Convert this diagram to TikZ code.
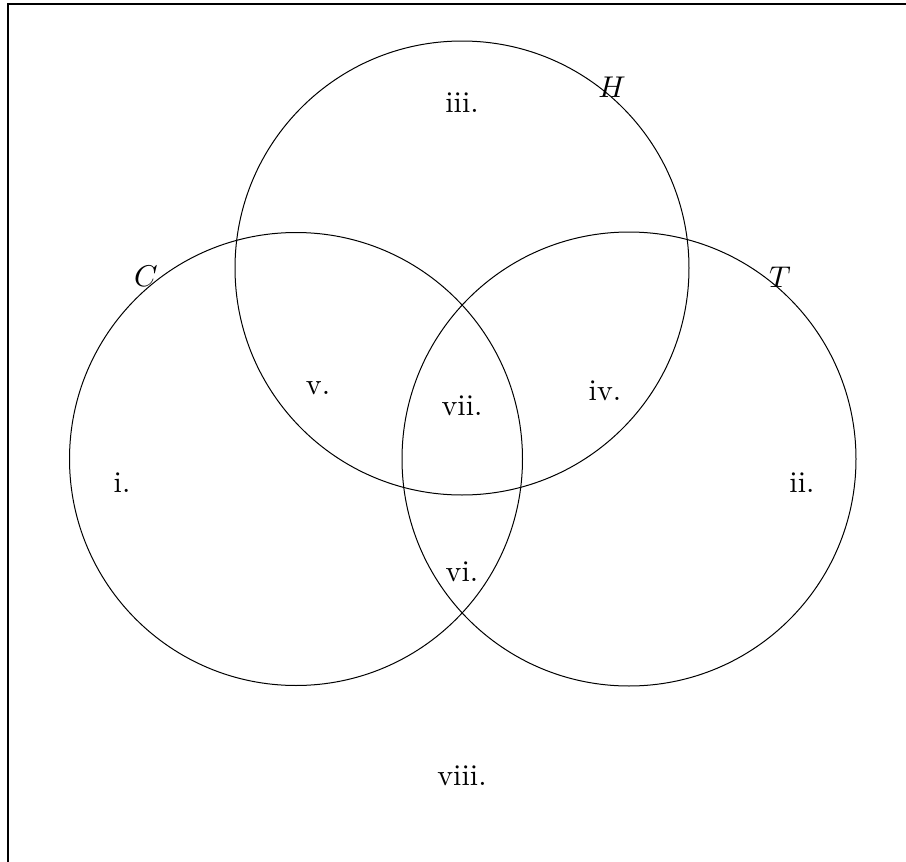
\documentclass[tikz,border=0pt]{standalone}
\begin{document}
\begin{tikzpicture}[x=1pt,y=-1pt,
  ring/.style={draw=black,line width=1pt},
  lbl/.style={font=\fontsize{10}{12}\selectfont,scale=3,inner sep=0pt}]
\useasboundingbox (0,0) rectangle (906,862);
\draw[line width=2pt] (8,4) rectangle (920,880);
\node[ring,circle,minimum size=453pt] (C) at (296,459) {};
\node[ring,circle,minimum size=454pt] (H) at (462,268) {};
\node[ring,circle,minimum size=454pt] (T) at (629,459) {};
\node[lbl] (lC) at (146,276) {$C$};
\node[lbl] (lH) at (612,87) {$H$};
\node[lbl] (lT) at (780,277) {$T$};
\node[lbl] (r3) at (462,103) {iii.};
\node[lbl] (r5) at (318,388) {v.};
\node[lbl] (r7) at (462,406) {vii.};
\node[lbl] (r4) at (605,391) {iv.};
\node[lbl] (r1) at (122,483) {i.};
\node[lbl] (r2) at (802,483) {ii.};
\node[lbl] (r6) at (462,572) {vi.};
\node[lbl] (r8) at (462,776) {viii.};
\end{tikzpicture}
\end{document}
